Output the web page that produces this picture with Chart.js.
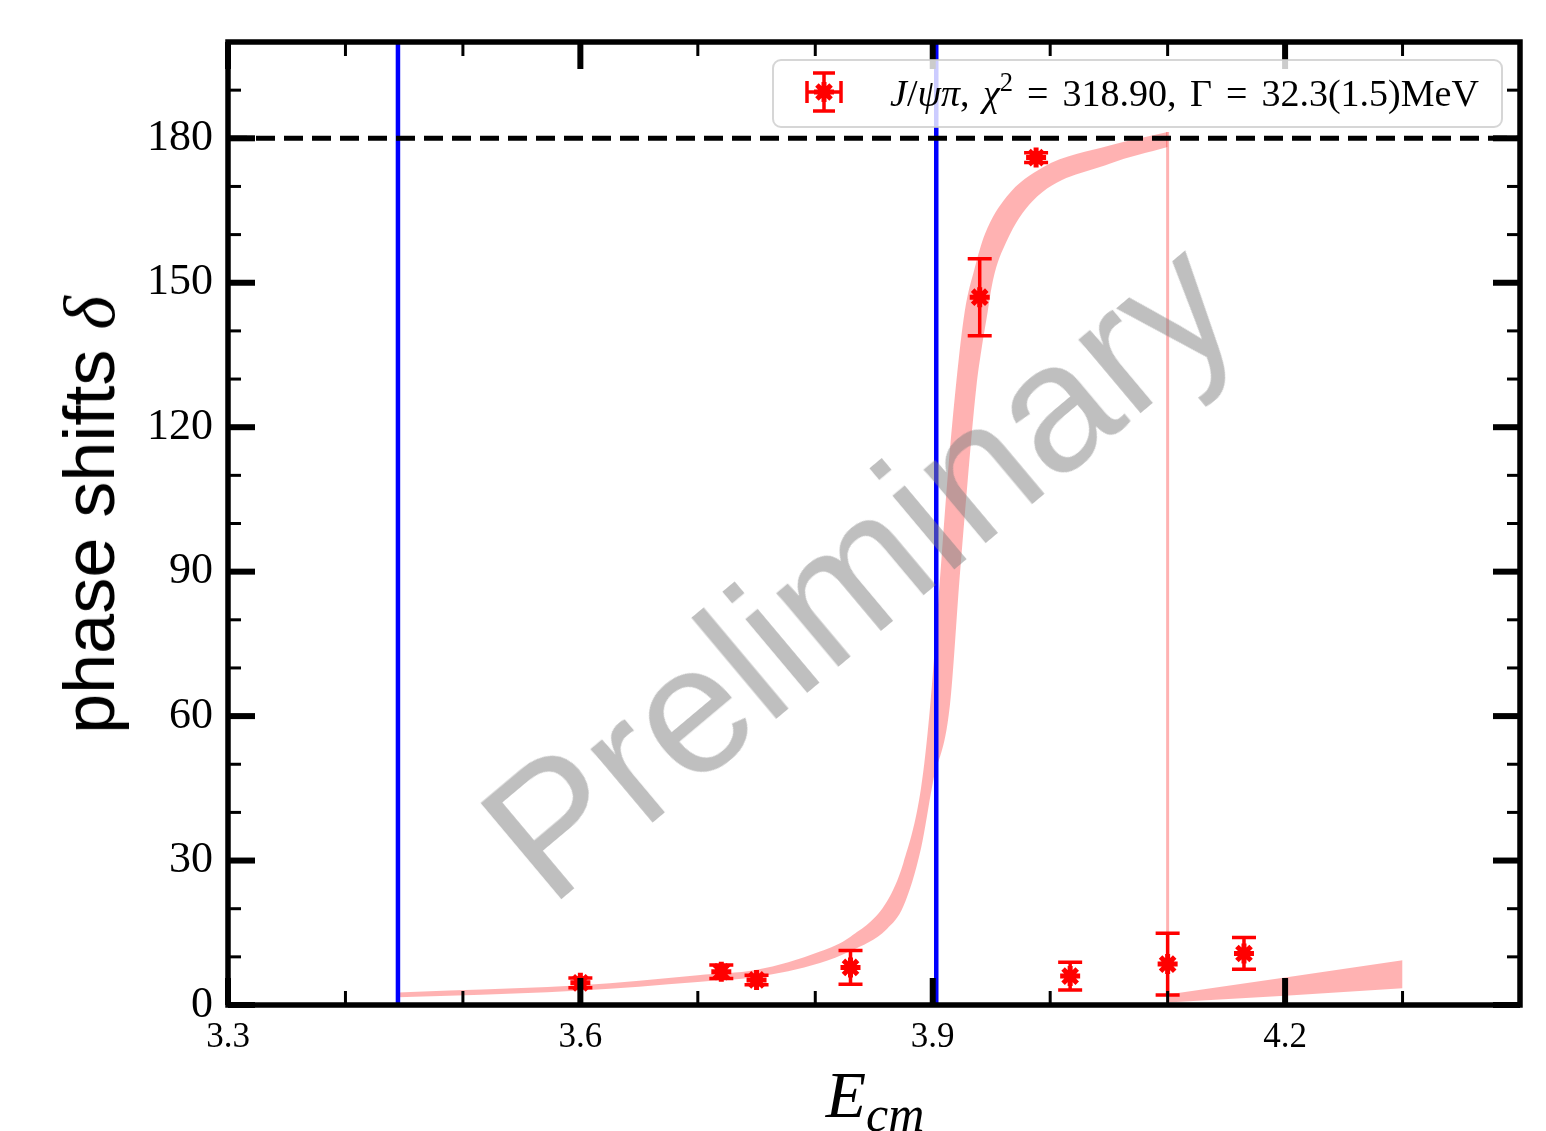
<!DOCTYPE html>
<html>
<head>
<meta charset="utf-8">
<title>phase shifts</title>
<script src="https://cdn.jsdelivr.net/npm/chart.js@4.4.0/dist/chart.umd.min.js"></script>
<style>
  body { margin: 0; background: #fff; }
  #wrap { position: relative; width: 1546px; height: 1131px; overflow: hidden; }
  #wrap canvas { position: absolute; left: 0; top: 0; }
  .txt { position: absolute; white-space: nowrap; line-height: 1; }
  #legend-text { left: 890px; top: 71px; font: 38px "Liberation Serif", serif; color: #000; word-spacing: 4px; }
  #legend-text sup { font-size: 0.7em; vertical-align: 0.55em; line-height: 0; }
  #legend-text .eq { margin: 0 14px; }
  #ylabel { left: 90px; top: 515px; font: 72px "Liberation Sans", sans-serif;
            transform: translate(-50%, -50%) rotate(-90deg); }
  #ylabel i { font-family: "Liberation Serif", serif; }
  #xlabel { left: 875px; top: 1057px; font: italic 66px "Liberation Serif", serif;
            transform: translateX(-50%); }
  #xlabel sub { font-size: 50px; vertical-align: -14px; line-height: 0; }
  #watermark { left: 858px; top: 568px; font: 182px "Liberation Sans", sans-serif;
               color: rgba(128, 128, 128, 0.5); transform: translate(-50%, -50%) rotate(-40deg); }
</style>
</head>
<body>
<div id="wrap">
  <canvas id="phase-chart" width="1546" height="1131"></canvas>
  <div id="legend-text" class="txt"><i>J</i>/<i>ψπ</i>, <i>χ</i><sup>2</sup><span class="eq">=</span>318.90, Γ<span class="eq">=</span>32.3(1.5)MeV</div>
  <div id="ylabel" class="txt">phase shifts <i>δ</i></div>
  <div id="xlabel" class="txt">E<sub>cm</sub></div>
  <div id="watermark" class="txt">Preliminary</div>
</div>
<script>
// axis ticks
const xTicks = [3.3, 3.6, 3.9, 4.2];
const xMinorTicks = [3.4, 3.5, 3.7, 3.8, 4.0, 4.1, 4.3];
const yTicks = [0, 30, 60, 90, 120, 150, 180];
const yMinorTicks = [10, 20, 40, 50, 70, 80, 100, 110, 130, 140, 160, 170, 190];

// lattice points (J/psi pi)
const energies = [3.600, 3.720, 3.750, 3.830, 3.940, 3.988, 4.017, 4.100, 4.165];
const phases   = [4.6, 6.9, 5.2, 7.8, 147.0, 176.0, 6.0, 8.5, 10.7];
const phaseErr = [1.0, 1.4, 1.0, 3.5, 8.0, 1.0, 2.9, 6.4, 3.3];

// fit band, below the jump
const bandUpperE = [3.4447, 3.488, 3.600, 3.700, 3.750, 3.804, 3.830, 3.861, 3.875, 3.890, 3.8974, 3.906, 3.9128, 3.9202, 3.9272, 3.9357, 3.9443, 3.9627, 3.9939, 4.0506, 4.100];
const bandUpper  = [2.6, 3.0, 4.1, 6.2, 7.3, 11.1, 14.2, 21.5, 29.5, 45.0, 61.0, 88.0, 110.0, 129.7, 144.0, 153.0, 160.0, 167.8, 174.0, 178.5, 181.3];
const bandLowerE = [3.4447, 3.488, 3.600, 3.700, 3.750, 3.804, 3.830, 3.861, 3.875, 3.890, 3.900, 3.9145, 3.923, 3.9298, 3.9372, 3.9414, 3.9468, 3.9513, 3.9627, 3.9851, 4.0506, 4.100];
const bandLower  = [1.6, 1.9, 3.0, 4.8, 5.8, 8.7, 11.2, 15.8, 20.5, 32.5, 46.0, 62.0, 89.0, 109.0, 128.5, 136.0, 144.0, 150.5, 158.5, 167.0, 174.7, 178.2];

// fit band after the jump
const tailE     = [4.1, 4.2, 4.3];
const tailUpper = [2.2, 5.7, 9.3];
const tailLower = [0.5, 1.9, 3.5];

const jumpE = 4.1;
const jumpRange = [0.5, 181.3];
const thresholds = [3.4447, 3.903];
const refPhase = 180;

const pink = "rgba(255, 0, 0, 0.3)";
const pts = (xs, ys) => xs.map((x, i) => ({ x: x, y: ys[i] }));

// error bars under the markers
const errorBars = {
  id: "errorBars",
  beforeDatasetDraw(chart, args) {
    if (chart.data.datasets[args.index].label !== "points") return;
    const { ctx, scales: { x, y } } = chart;
    ctx.save();
    ctx.strokeStyle = "#ff0000";
    ctx.lineWidth = 3.5;
    energies.forEach((e, i) => {
      const px = x.getPixelForValue(e);
      const top = y.getPixelForValue(phases[i] + phaseErr[i]);
      const bot = y.getPixelForValue(phases[i] - phaseErr[i]);
      ctx.beginPath();
      ctx.moveTo(px, top); ctx.lineTo(px, bot);
      ctx.moveTo(px - 12, top); ctx.lineTo(px + 12, top);
      ctx.moveTo(px - 12, bot); ctx.lineTo(px + 12, bot);
      ctx.stroke();
    });
    ctx.restore();
  }
};

// frame with inward ticks on all four sides, then the legend box
const frameAndLegend = {
  id: "frameAndLegend",
  afterDatasetsDraw(chart) {
    const { ctx, chartArea: a, scales: { x, y } } = chart;
    ctx.save();
    ctx.strokeStyle = "#000";
    const seg = (x1, y1, x2, y2, w) => {
      ctx.lineWidth = w;
      ctx.beginPath(); ctx.moveTo(x1, y1); ctx.lineTo(x2, y2); ctx.stroke();
    };
    xTicks.forEach(v => {
      const p = x.getPixelForValue(v);
      seg(p, a.bottom, p, a.bottom - 27, 6);
      seg(p, a.top, p, a.top + 27, 6);
    });
    xMinorTicks.forEach(v => {
      const p = x.getPixelForValue(v);
      seg(p, a.bottom, p, a.bottom - 14, 3);
      seg(p, a.top, p, a.top + 14, 3);
    });
    yTicks.forEach(v => {
      const p = y.getPixelForValue(v);
      seg(a.left, p, a.left + 27, p, 6);
      seg(a.right, p, a.right - 27, p, 6);
    });
    yMinorTicks.forEach(v => {
      const p = y.getPixelForValue(v);
      seg(a.left, p, a.left + 13, p, 3);
      seg(a.right, p, a.right - 13, p, 3);
    });
    ctx.lineWidth = 5.5;
    ctx.strokeRect(a.left, a.top, a.right - a.left, a.bottom - a.top);

    // legend
    const bx = 773, by = 60, bw = 729, bh = 67;
    ctx.beginPath();
    ctx.roundRect(bx, by, bw, bh, 8);
    ctx.fillStyle = "rgba(255, 255, 255, 0.8)";
    ctx.fill();
    ctx.lineWidth = 2;
    ctx.strokeStyle = "rgba(204, 204, 204, 0.8)";
    ctx.stroke();
    const cx = 824, cy = 92;
    ctx.strokeStyle = "#ff0000";
    ctx.fillStyle = "#ff0000";
    ctx.lineWidth = 3.5;
    ctx.beginPath();
    ctx.moveTo(cx, cy - 19); ctx.lineTo(cx, cy + 19);
    ctx.moveTo(cx - 11, cy - 19); ctx.lineTo(cx + 11, cy - 19);
    ctx.moveTo(cx - 11, cy + 19); ctx.lineTo(cx + 11, cy + 19);
    ctx.moveTo(cx - 17, cy); ctx.lineTo(cx + 17, cy);
    ctx.moveTo(cx - 17, cy - 11); ctx.lineTo(cx - 17, cy + 11);
    ctx.moveTo(cx + 17, cy - 11); ctx.lineTo(cx + 17, cy + 11);
    ctx.stroke();
    ctx.lineWidth = 5;
    Chart.helpers.drawPoint(ctx, { pointStyle: "star", radius: 10, borderWidth: 5 }, cx, cy);
    ctx.restore();
  }
};

const ctx = document.getElementById("phase-chart").getContext("2d");
const phaseChart = new Chart(ctx, {
  type: "scatter",
  data: {
    datasets: [
      { label: "points", data: pts(energies, phases), order: 0,
        pointStyle: "star", pointRadius: 10, borderWidth: 5,
        borderColor: "#ff0000", backgroundColor: "#ff0000" },
      { label: "ref", data: [{ x: 3.3, y: refPhase }, { x: 4.4, y: refPhase }], order: 1,
        showLine: true, pointRadius: 0, borderColor: "#000", borderWidth: 5, borderDash: [19, 9] },
      { label: "thr1", data: [{ x: thresholds[0], y: 0 }, { x: thresholds[0], y: 200 }], order: 2,
        showLine: true, pointRadius: 0, borderColor: "#0000ff", borderWidth: 4.5 },
      { label: "thr2", data: [{ x: thresholds[1], y: 0 }, { x: thresholds[1], y: 200 }], order: 2,
        showLine: true, pointRadius: 0, borderColor: "#0000ff", borderWidth: 4.5 },
      { label: "jump", data: [{ x: jumpE, y: jumpRange[0] }, { x: jumpE, y: jumpRange[1] }], order: 3,
        showLine: true, pointRadius: 0, borderColor: pink, borderWidth: 3 },
      { label: "lower", data: pts(bandLowerE, bandLower), order: 4,
        showLine: true, pointRadius: 0, borderWidth: 0, borderColor: "rgba(0,0,0,0)",
        cubicInterpolationMode: "monotone" },
      { label: "upper", data: pts(bandUpperE, bandUpper), order: 4,
        showLine: true, pointRadius: 0, borderWidth: 0, borderColor: "rgba(0,0,0,0)",
        backgroundColor: pink, fill: "-1", cubicInterpolationMode: "monotone" },
      { label: "tailLower", data: pts(tailE, tailLower), order: 4,
        showLine: true, pointRadius: 0, borderWidth: 0, borderColor: "rgba(0,0,0,0)" },
      { label: "tailUpper", data: pts(tailE, tailUpper), order: 4,
        showLine: true, pointRadius: 0, borderWidth: 0, borderColor: "rgba(0,0,0,0)",
        backgroundColor: pink, fill: "-1" }
    ]
  },
  options: {
    responsive: false,
    animation: false,
    events: [],
    layout: { padding: { left: 0, top: 42, right: 26, bottom: 0 } },
    plugins: { legend: { display: false }, tooltip: { enabled: false } },
    scales: {
      x: {
        type: "linear", min: 3.3, max: 4.4,
        grid: { display: false, drawTicks: false },
        border: { display: false },
        afterFit: s => { s.height = 126; },
        afterBuildTicks: s => { s.ticks = xTicks.map(v => ({ value: v })); },
        ticks: { autoSkip: false, maxRotation: 0, padding: 12, color: "#000",
                 font: { family: "Liberation Serif", size: 35 },
                 callback: v => v.toFixed(1) }
      },
      y: {
        type: "linear", min: 0, max: 200,
        grid: { display: false, drawTicks: false },
        border: { display: false },
        afterFit: s => { s.width = 228; },
        afterBuildTicks: s => { s.ticks = yTicks.map(v => ({ value: v })); },
        ticks: { autoSkip: false, padding: 15, color: "#000",
                 font: { family: "Liberation Serif", size: 44 },
                 callback: v => String(v) }
      }
    }
  },
  plugins: [errorBars, frameAndLegend]
});
</script>
</body>
</html>
